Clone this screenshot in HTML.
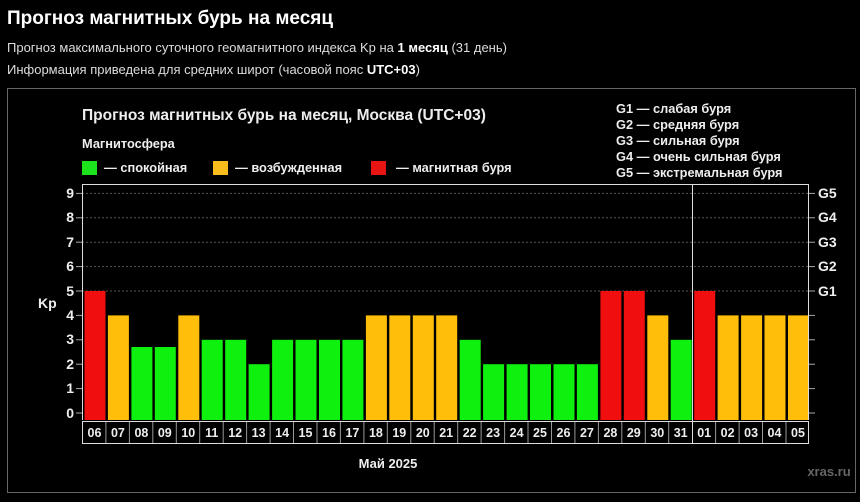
<!DOCTYPE html>
<html><head><meta charset="utf-8"><style>
body{margin:0;background:#000;width:860px;height:497px;overflow:hidden;font-family:"Liberation Sans",sans-serif;color:#fff}
</style></head><body>
<svg width="860" height="497" xmlns="http://www.w3.org/2000/svg" font-family="Liberation Sans, sans-serif">
<rect width="860" height="497" fill="#000"/>
<text x="7" y="24" font-size="19" font-weight="bold" fill="#fff">Прогноз магнитных бурь на месяц</text>
<text x="7" y="52" font-size="13" fill="#ddd">Прогноз максимального суточного геомагнитного индекса Kp на <tspan font-weight="bold" fill="#fff">1 месяц</tspan> (31 день)</text>
<text x="7" y="74" font-size="13" fill="#ddd">Информация приведена для средних широт (часовой пояс <tspan font-weight="bold" fill="#fff">UTC+03</tspan>)</text>
<rect x="7.5" y="88.5" width="848" height="404" fill="none" stroke="#666" stroke-width="1"/>
<text x="82" y="120" font-size="15.5" font-weight="bold" fill="#eee">Прогноз магнитных бурь на месяц, Москва (UTC+03)</text>
<text x="82" y="148" font-size="12.8" font-weight="bold" fill="#eee">Магнитосфера</text>
<rect x="82" y="161" width="15" height="14" fill="#1de31d"/>
<text x="104" y="172" font-size="12.8" font-weight="bold" fill="#eee">— спокойная</text>
<rect x="213" y="161" width="15" height="14" fill="#f8bc1c"/>
<text x="235" y="172" font-size="12.8" font-weight="bold" fill="#eee">— возбужденная</text>
<rect x="371" y="161" width="15" height="14" fill="#e81414"/>
<text x="396" y="172" font-size="12.8" font-weight="bold" fill="#eee">— магнитная буря</text>
<g font-size="12.8" font-weight="bold" fill="#eee">
<text x="616" y="113">G1 — слабая буря</text>
<text x="616" y="129">G2 — средняя буря</text>
<text x="616" y="145">G3 — сильная буря</text>
<text x="616" y="161">G4 — очень сильная буря</text>
<text x="616" y="177">G5 — экстремальная буря</text>
</g>
<g stroke="#555" stroke-dasharray="2,2" stroke-width="1">
<line x1="82" x2="809" y1="193.4" y2="193.4"/><line x1="82" x2="809" y1="217.8" y2="217.8"/>
<line x1="82" x2="809" y1="242.2" y2="242.2"/><line x1="82" x2="809" y1="266.6" y2="266.6"/>
<line x1="82" x2="809" y1="291" y2="291"/>
</g>
<g stroke="#aaa" stroke-width="1">
<line x1="76" x2="82" y1="193.4" y2="193.4"/><line x1="76" x2="82" y1="217.8" y2="217.8"/><line x1="76" x2="82" y1="242.2" y2="242.2"/><line x1="76" x2="82" y1="266.6" y2="266.6"/><line x1="76" x2="82" y1="291" y2="291"/><line x1="76" x2="82" y1="315.4" y2="315.4"/><line x1="76" x2="82" y1="339.8" y2="339.8"/><line x1="76" x2="82" y1="364.2" y2="364.2"/><line x1="76" x2="82" y1="388.6" y2="388.6"/><line x1="76" x2="82" y1="413" y2="413"/>
<line x1="809" x2="815" y1="193.4" y2="193.4"/><line x1="809" x2="815" y1="217.8" y2="217.8"/><line x1="809" x2="815" y1="242.2" y2="242.2"/><line x1="809" x2="815" y1="266.6" y2="266.6"/><line x1="809" x2="815" y1="291" y2="291"/><line x1="809" x2="815" y1="315.4" y2="315.4"/><line x1="809" x2="815" y1="339.8" y2="339.8"/><line x1="809" x2="815" y1="364.2" y2="364.2"/><line x1="809" x2="815" y1="388.6" y2="388.6"/><line x1="809" x2="815" y1="413" y2="413"/>
</g>
<g font-size="14" font-weight="bold" fill="#eee" text-anchor="end">
<text x="74" y="198">9</text><text x="74" y="222">8</text><text x="74" y="247">7</text><text x="74" y="271">6</text><text x="74" y="296">5</text><text x="74" y="320">4</text><text x="74" y="344">3</text><text x="74" y="369">2</text><text x="74" y="393">1</text><text x="74" y="418">0</text>
</g>
<text x="38" y="308" font-size="14" font-weight="bold" fill="#eee">Kp</text>
<g font-size="14" font-weight="bold" fill="#eee">
<text x="818" y="198">G5</text><text x="818" y="222">G4</text><text x="818" y="247">G3</text><text x="818" y="271">G2</text><text x="818" y="296">G1</text>
</g>
<g>
<rect x="84.5" y="291" width="21" height="129" fill="#f00e0e"/>
<rect x="107.9" y="315.4" width="21" height="104.6" fill="#ffbe0a"/>
<rect x="131.4" y="347" width="21" height="73" fill="#0ef00e"/>
<rect x="154.8" y="347" width="21" height="73" fill="#0ef00e"/>
<rect x="178.3" y="315.4" width="21" height="104.6" fill="#ffbe0a"/>
<rect x="201.7" y="339.8" width="21" height="80.2" fill="#0ef00e"/>
<rect x="225.2" y="339.8" width="21" height="80.2" fill="#0ef00e"/>
<rect x="248.6" y="364.2" width="21" height="55.8" fill="#0ef00e"/>
<rect x="272.1" y="339.8" width="21" height="80.2" fill="#0ef00e"/>
<rect x="295.5" y="339.8" width="21" height="80.2" fill="#0ef00e"/>
<rect x="319" y="339.8" width="21" height="80.2" fill="#0ef00e"/>
<rect x="342.4" y="339.8" width="21" height="80.2" fill="#0ef00e"/>
<rect x="365.9" y="315.4" width="21" height="104.6" fill="#ffbe0a"/>
<rect x="389.3" y="315.4" width="21" height="104.6" fill="#ffbe0a"/>
<rect x="412.8" y="315.4" width="21" height="104.6" fill="#ffbe0a"/>
<rect x="436.2" y="315.4" width="21" height="104.6" fill="#ffbe0a"/>
<rect x="459.7" y="339.8" width="21" height="80.2" fill="#0ef00e"/>
<rect x="483.1" y="364.2" width="21" height="55.8" fill="#0ef00e"/>
<rect x="506.6" y="364.2" width="21" height="55.8" fill="#0ef00e"/>
<rect x="530" y="364.2" width="21" height="55.8" fill="#0ef00e"/>
<rect x="553.5" y="364.2" width="21" height="55.8" fill="#0ef00e"/>
<rect x="576.9" y="364.2" width="21" height="55.8" fill="#0ef00e"/>
<rect x="600.4" y="291" width="21" height="129" fill="#f00e0e"/>
<rect x="623.8" y="291" width="21" height="129" fill="#f00e0e"/>
<rect x="647.3" y="315.4" width="21" height="104.6" fill="#ffbe0a"/>
<rect x="670.7" y="339.8" width="21" height="80.2" fill="#0ef00e"/>
<rect x="694.2" y="291" width="21" height="129" fill="#f00e0e"/>
<rect x="717.6" y="315.4" width="21" height="104.6" fill="#ffbe0a"/>
<rect x="741.1" y="315.4" width="21" height="104.6" fill="#ffbe0a"/>
<rect x="764.5" y="315.4" width="21" height="104.6" fill="#ffbe0a"/>
<rect x="788" y="315.4" width="21" height="104.6" fill="#ffbe0a"/>
</g>
<g fill="none" stroke="#ddd" stroke-width="1">
<polyline points="82.5,420 82.5,184.5 808.5,184.5 808.5,420"/>
<line x1="692.5" y1="184.5" x2="692.5" y2="444"/>
<rect x="82.5" y="421.5" width="726" height="22"/>
</g>
<g stroke="#999" stroke-width="1">
<line x1="105.9" y1="422" x2="105.9" y2="443"/><line x1="129.4" y1="422" x2="129.4" y2="443"/><line x1="152.8" y1="422" x2="152.8" y2="443"/><line x1="176.3" y1="422" x2="176.3" y2="443"/><line x1="199.7" y1="422" x2="199.7" y2="443"/><line x1="223.2" y1="422" x2="223.2" y2="443"/><line x1="246.6" y1="422" x2="246.6" y2="443"/><line x1="270.1" y1="422" x2="270.1" y2="443"/><line x1="293.5" y1="422" x2="293.5" y2="443"/><line x1="317" y1="422" x2="317" y2="443"/><line x1="340.4" y1="422" x2="340.4" y2="443"/><line x1="363.9" y1="422" x2="363.9" y2="443"/><line x1="387.3" y1="422" x2="387.3" y2="443"/><line x1="410.8" y1="422" x2="410.8" y2="443"/><line x1="434.2" y1="422" x2="434.2" y2="443"/><line x1="457.7" y1="422" x2="457.7" y2="443"/><line x1="481.1" y1="422" x2="481.1" y2="443"/><line x1="504.6" y1="422" x2="504.6" y2="443"/><line x1="528" y1="422" x2="528" y2="443"/><line x1="551.5" y1="422" x2="551.5" y2="443"/><line x1="574.9" y1="422" x2="574.9" y2="443"/><line x1="598.4" y1="422" x2="598.4" y2="443"/><line x1="621.8" y1="422" x2="621.8" y2="443"/><line x1="645.3" y1="422" x2="645.3" y2="443"/><line x1="668.7" y1="422" x2="668.7" y2="443"/><line x1="715.6" y1="422" x2="715.6" y2="443"/><line x1="739.1" y1="422" x2="739.1" y2="443"/><line x1="762.5" y1="422" x2="762.5" y2="443"/><line x1="786" y1="422" x2="786" y2="443"/>
</g>
<g font-size="12.5" font-weight="bold" fill="#eee" text-anchor="middle">
<text x="94.5" y="437">06</text><text x="117.9" y="437">07</text><text x="141.4" y="437">08</text><text x="164.8" y="437">09</text><text x="188.3" y="437">10</text><text x="211.7" y="437">11</text><text x="235.2" y="437">12</text><text x="258.6" y="437">13</text><text x="282.1" y="437">14</text><text x="305.5" y="437">15</text><text x="329" y="437">16</text><text x="352.4" y="437">17</text><text x="375.9" y="437">18</text><text x="399.3" y="437">19</text><text x="422.8" y="437">20</text><text x="446.2" y="437">21</text><text x="469.7" y="437">22</text><text x="493.1" y="437">23</text><text x="516.6" y="437">24</text><text x="540" y="437">25</text><text x="563.5" y="437">26</text><text x="586.9" y="437">27</text><text x="610.4" y="437">28</text><text x="633.8" y="437">29</text><text x="657.3" y="437">30</text><text x="680.7" y="437">31</text><text x="704.2" y="437">01</text><text x="727.6" y="437">02</text><text x="751.1" y="437">03</text><text x="774.5" y="437">04</text><text x="798" y="437">05</text>
</g>
<text x="388" y="468" font-size="13" font-weight="bold" fill="#eee" text-anchor="middle">Май 2025</text>
<text x="829" y="476" font-size="13" font-weight="bold" fill="#666" text-anchor="middle">xras.ru</text>
</svg>
</body></html>
